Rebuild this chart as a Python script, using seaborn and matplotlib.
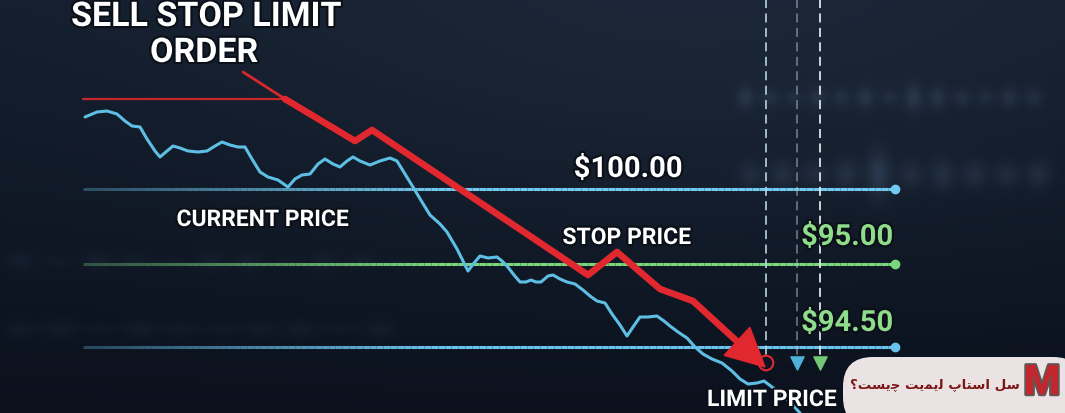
import numpy as np
import matplotlib
matplotlib.use("Agg")
import matplotlib.pyplot as plt
import matplotlib.patheffects as pe
from matplotlib.collections import LineCollection
from matplotlib.patches import FancyBboxPatch, Polygon
import seaborn as sns
import pandas as pd

# ---- data (canvas units, y grows downward) ----
price_x = [85, 97, 107, 117, 125, 132, 140, 147, 155, 160, 167, 173, 180, 188, 198, 207,
           215, 222, 230, 238, 245, 252, 260, 268, 278, 288, 295, 302, 310, 318, 325, 333,
           340, 347, 353, 360, 370, 380, 390, 397, 405, 413, 422, 430, 440, 447, 457, 463,
           468, 474, 480, 488, 497, 502, 507, 514, 520, 526, 531, 536, 541, 548, 553, 560,
           567, 575, 583, 590, 597, 605, 612, 620, 627, 633, 640, 648, 657, 664, 670, 678,
           687, 695, 703, 712, 722, 732, 740, 748, 757, 764, 772, 780, 790, 800]
price_y = [118, 113, 112, 115, 122, 127, 128, 140, 152, 158, 152, 147, 149, 152, 153, 152,
           147, 143, 146, 148, 148, 160, 173, 178, 181, 188, 180, 176, 175, 165, 160, 165,
           168, 162, 158, 162, 166, 162, 159, 162, 175, 188, 203, 216, 225, 233, 250, 262,
           272, 264, 257, 259, 258, 262, 267, 276, 283, 283, 281, 283, 283, 277, 276, 280,
           283, 285, 291, 297, 302, 304, 315, 326, 337, 328, 318, 318, 317, 322, 327, 333,
           339, 348, 355, 360, 364, 372, 380, 385, 384, 382, 388, 394, 403, 414]

order_x = [285, 355, 372, 588, 617, 660, 693, 765]
order_y = [100, 142, 131, 276, 253, 290, 302, 368]

levels = {"$100.00": 190, "$95.00": 265, "$94.50": 348}
level_colors = {"$100.00": "#70c9ee", "$95.00": "#79d67c", "$94.50": "#69c3ec"}
marker_x = [766, 797, 820]

title_lines = ["SELL STOP LIMIT", "ORDER"]
caption_fa = "سل استاپ لیمیت چیست؟"
# matplotlib 3.10 has no Arabic shaping, so the caption is drawn in its
# presentation forms, in visual (left-to-right) order
caption_fa_visual = ("\u061F\uFE96\uFEB4\uFBFE\uFB7C \uFE96\uFBFE\uFEE4\uFBFE\uFEDF "
                     "\uFB56\uFE8E\uFE98\uFEB3\uFE8D \uFEDE\uFEB3")

W, H = 1065, 414

sns.set_theme(style="dark")
plt.rcParams["font.family"] = ["Roboto", "DejaVu Sans"]

fig = plt.figure(figsize=(W / 100, H / 100), dpi=100)
ax = fig.add_axes([0, 0, 1, 1])
ax.set_xlim(0, W)
ax.set_ylim(H, 0)
ax.axis("off")

# background: dark navy, slightly lighter up top, with out-of-focus "screen text"
yy, xx = np.mgrid[0:H, 0:W].astype(float)
glow = np.exp(-(((xx - 700) / 520.0) ** 2 + ((yy - 40) / 230.0) ** 2))
top = np.array([20, 30, 45]) / 255
bot = np.array([11, 17, 29]) / 255
t = (yy / H)[..., None]
light = glow * 0.05


def blob_row(y, x0, x1, step, sx, sy, k, seed_sizes):
    global light
    xs = np.arange(x0, x1, step)
    for i, x in enumerate(xs):
        s = seed_sizes[i % len(seed_sizes)]
        light = light + k * s * np.exp(-(((xx - x) / sx) ** 2 + ((yy - y) / (sy * s)) ** 2))


blob_row(98, 745, 1050, 24, 9, 11, 0.10, [1.0, 0.8, 0.7, 0.9, 0.8, 1.0, 0.7, 1.2])
blob_row(175, 750, 1055, 32, 12, 15, 0.10, [0.8, 0.9, 0.8, 1.0, 1.5, 0.9, 1.0, 0.9])
blob_row(262, 20, 430, 38, 14, 9, 0.04, [1.0, 0.6, 1.0, 0.8, 0.5, 1.0])
blob_row(330, 20, 420, 40, 16, 9, 0.04, [0.9, 1.0, 0.6, 1.0, 0.8, 0.7])

bg = top * (1 - t) + bot * t + light[..., None] * np.array([0.55, 0.7, 0.85])
ax.imshow(np.clip(bg, 0, 1), extent=(0, W, H, 0), zorder=0, aspect="auto")


def fade_line(y, x0, x1, color, lw, fade=350, lo=0.3):
    xs = np.linspace(x0, x1, 120)
    segs = [[(xs[i], y), (xs[i + 1], y)] for i in range(len(xs) - 1)]
    alpha = np.clip(lo + (xs[:-1] - x0) / fade * (1 - lo), lo, 1)
    rgba = [matplotlib.colors.to_rgba(color, a) for a in alpha]
    ax.add_collection(LineCollection(segs, colors=rgba, linewidths=lw, zorder=3))


for name, y in levels.items():
    fade_line(y, 83, 895, level_colors[name], 2.2)
    ax.plot([895], [y], "o", color=level_colors[name], ms=6, zorder=4)

# dashed vertical guides
for x, c, a in zip(marker_x, ["#bcd6e8", "#a9b9c6", "#e6edf3"], [0.9, 0.55, 0.95]):
    ax.plot([x, x], [0, 357], color=c, lw=1.3, alpha=a, ls=(0, (5, 3)), zorder=3)

# red thin stop line
ax.plot([83, 285], [100, 100], color="#c9262c", lw=1.6, zorder=4)
ax.plot([243, 285], [73, 100], color="#d8272d", lw=2.0, zorder=4)

# price path
price = pd.DataFrame({"x": price_x, "y": price_y})
sns.lineplot(data=price, x="x", y="y", sort=False, estimator=None, color="#5dbfe4",
             lw=2.2, ax=ax, zorder=5, solid_joinstyle="round")

# red order arrow
order = pd.DataFrame({"x": order_x[:-1], "y": order_y[:-1]})
tip = np.array([order_x[-1], order_y[-1]], float)
prev = np.array([order_x[-2], order_y[-2]], float)
d = (tip - prev) / np.linalg.norm(tip - prev)
base = tip - d * 38
n = np.array([-d[1], d[0]])
shaft = pd.concat([order, pd.DataFrame({"x": [base[0]], "y": [base[1]]})])
sns.lineplot(data=shaft, x="x", y="y", sort=False, estimator=None, color="#e0282e",
             lw=4.8, ax=ax, zorder=6)
ax.add_patch(Polygon([tip, base + n * 19, base - n * 19], closed=True,
                     color="#e0282e", zorder=6))

ax.scatter([marker_x[0]], [364], s=110, facecolors="none", edgecolors="#e0282e",
           linewidths=1.5, zorder=7)
ax.scatter([marker_x[1]], [364], marker="v", s=90, color="#4fb0d8", zorder=7)
ax.scatter([marker_x[2]], [364], marker="v", s=90, color="#72c774", zorder=7)

# labels (baseline-anchored)
outline = [pe.withStroke(linewidth=3, foreground="#0a0f18")]
lab = dict(fontweight="bold", ha="center", va="baseline", path_effects=outline, zorder=8)
ax.text(206, 27, title_lines[0], fontsize=24.5, color="white", **lab)
ax.text(204, 63, title_lines[1], fontsize=24.5, color="white", **lab)
ax.text(263, 227, "CURRENT PRICE", fontsize=16.5, color="white", **lab)
ax.text(628, 178, "$100.00", fontsize=21, color="white", **lab)
ax.text(627, 245, "STOP PRICE", fontsize=16.5, color="white", **lab)
ax.text(847, 246, "$95.00", fontsize=21, color="#8fdc8b", **lab)
ax.text(847, 332, "$94.50", fontsize=21, color="#8fdc8b", **lab)
ax.text(772, 407, "LIMIT PRICE", fontsize=16.5, color="white", **lab)

# caption badge, bottom right
ax.add_patch(FancyBboxPatch((843, 358), 240, 70, boxstyle="round,pad=0,rounding_size=30",
                            facecolor="#ebe3e3", edgecolor="none", zorder=9))
ax.text(1020, 385, caption_fa_visual, fontsize=9.6, fontweight="bold", color="#7c1616",
        family=["DejaVu Sans"], ha="right", va="center", zorder=10)
ax.text(1042, 384, "M", fontsize=30, fontweight="heavy", color="#c3262c",
        ha="center", va="center", zorder=10,
        path_effects=[pe.withStroke(linewidth=2.5, foreground="#5a5a5a")])

fig.savefig("out.png", dpi=100)
